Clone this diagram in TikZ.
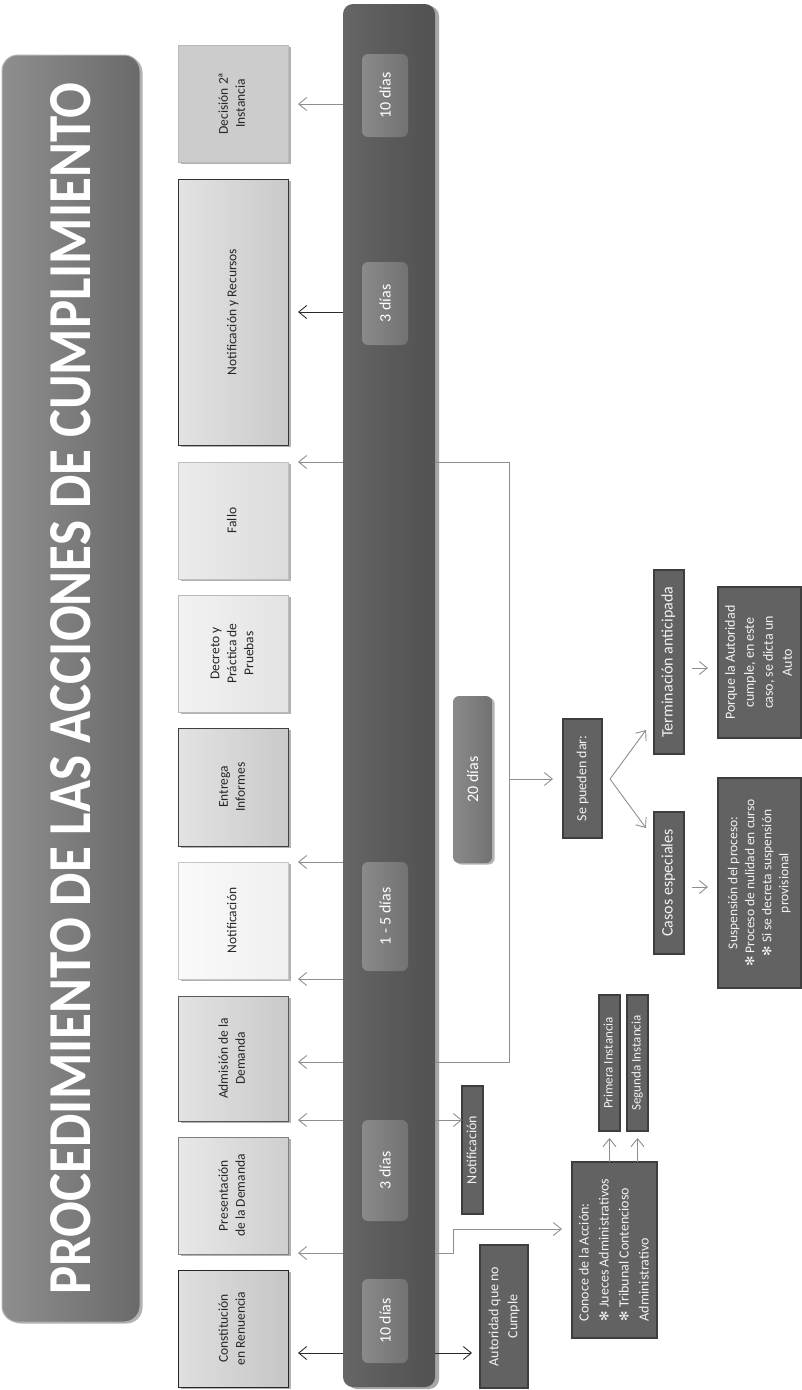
\documentclass[tikz,border=0pt]{standalone}
\usepackage{fontspec}
\usepackage{graphicx}
\setmainfont{Carlito}
\newfontfamily\djv{DejaVu Sans}
\usetikzlibrary{arrows.meta,shadows}
\definecolor{bargray}{HTML}{5A5A5A}
\definecolor{barlight}{HTML}{666666}
\definecolor{bardark}{HTML}{525252}
\definecolor{daylight}{HTML}{8A8A8A}
\definecolor{daydark}{HTML}{727272}
\definecolor{boxdark}{HTML}{626262}
\definecolor{boxedge}{HTML}{3E3E3E}
\definecolor{boxtext}{HTML}{F2F2F2}
\definecolor{arrgray}{HTML}{8E8E8E}
\definecolor{arrblack}{HTML}{2A2A2A}
\definecolor{titlel}{HTML}{8E8E8E}
\definecolor{titler}{HTML}{6A6A6A}
\newcommand{\rt}[1]{\rotatebox{90}{\begin{tabular}{@{}c@{}}#1\end{tabular}}}
\newcommand{\rtl}[1]{\rotatebox{90}{\begin{tabular}{@{}l@{}}#1\end{tabular}}}
\newcommand{\myast}{{\djv\fontsize{12.5}{12.5}\selectfont ✻}}
\begin{document}
\begin{tikzpicture}[x=1pt,y=-1pt,
  every node/.style={inner sep=0pt, outer sep=0pt},
  shad/.style={drop shadow={shadow xshift=2.5pt,shadow yshift=-1.5pt,opacity=0.3,fill=black}},
  stepbox/.style={rectangle, minimum width=110pt, line width=0.9pt, text=black!85,
    font=\fontsize{13.5}{17}\selectfont, shad},
  daybox/.style={rectangle, rounded corners=6pt, minimum width=46pt, left color=daylight,
    right color=daydark, text=white, font=\fontsize{16}{18}\selectfont},
  darkbox/.style={rectangle, fill=boxdark, draw=boxedge, line width=1.6pt, text=boxtext,
    font=\fontsize{14}{19}\selectfont},
  garr/.style={draw=arrgray, line width=0.9pt, -{Straight Barb[length=8pt,width=13pt]}},
  barr/.style={draw=arrblack, line width=0.9pt, -{Straight Barb[length=8pt,width=13pt]}},
  gline/.style={draw=arrgray, line width=0.9pt}]
\useasboundingbox (0,0) rectangle (801,1390);

% title
\node[rectangle, rounded corners=16pt, minimum width=138pt, minimum height=1267pt,
  left color=titlel, right color=titler, draw=gray!60, line width=1pt, shad, text=white]
  (title) at (71,688.5)
  {\rotatebox{90}{\resizebox{1212pt}{40pt}{\bfseries PROCEDIMIENTO DE LAS ACCIONES DE CUMPLIMIENTO}}};

% step boxes
\node[stepbox, minimum height=117pt, fill=gray!40, draw=gray!55] (dec) at (233,103.5)
  {\rt{Decisión 2ª\\Instancia}};
\node[stepbox, minimum height=266pt, left color=gray!22, right color=gray!42, draw=black!80] (nyr) at (233,312)
  {\rt{Notificación y Recursos}};
\node[stepbox, minimum height=117pt, left color=gray!15, right color=gray!28, draw=gray!50] (fallo) at (233,520.5)
  {\rt{Fallo}};
\node[stepbox, minimum height=117pt, left color=gray!10, right color=gray!22, draw=gray!55] (decreto) at (233,653.5)
  {\rt{Decreto y\\Práctica de\\Pruebas}};
\node[stepbox, minimum height=118pt, left color=gray!22, right color=gray!42, draw=black!75] (entrega) at (233,787)
  {\rt{Entrega\\Informes}};
\node[stepbox, minimum height=117pt, left color=gray!4, right color=gray!12, draw=gray!45] (notif) at (233,920.5)
  {\rt{Notificación}};
\node[stepbox, minimum height=125pt, left color=gray!22, right color=gray!42, draw=black!65] (admision) at (233,1058.5)
  {\rt{Admisión de la\\Demanda}};
\node[stepbox, minimum height=117pt, left color=gray!18, right color=gray!38, draw=black!50] (present) at (233,1195.5)
  {\rt{Presentación\\de la Demanda}};
\node[stepbox, minimum height=117pt, left color=gray!25, right color=gray!45, draw=black!85] (const) at (233,1328.5)
  {\rt{Constitución\\en Renuencia}};

% connectors under the bar
\coordinate (jt) at (509,462);
\coordinate (jm) at (509,779);
\coordinate (jb) at (509,1062);
\coordinate (k1) at (453,1253);
\coordinate (k2) at (453,1229);
\draw[gline] (389,462) -- (jt) -- (jb) -- (389,1062);

% timeline bar
\node[rectangle, rounded corners=10pt, minimum width=92pt, minimum height=1383pt,
  left color=barlight, right color=bardark, middle color=bargray,
  drop shadow={shadow xshift=4pt,shadow yshift=-2pt,opacity=0.35,fill=black}] (bar) at (389,695.5) {};

\node[daybox, minimum height=83pt] (d10a) at (385,95.5) {\rotatebox{90}{10 días}};
\node[daybox, minimum height=83pt] (d3a) at (385,303.5) {\rotatebox{90}{3 días}};
\node[daybox, minimum height=109pt] (d15) at (385,916.5) {\rotatebox{90}{1 - 5 días}};
\node[daybox, minimum height=101pt] (d3b) at (385,1170.5) {\rotatebox{90}{3 días}};
\node[daybox, minimum height=84pt] (d10b) at (385,1321) {\rotatebox{90}{10 días}};
\node[daybox, minimum width=39pt, minimum height=167pt, shad] (d20) at (472.5,779.5) {\rotatebox{90}{20 días}};

% right side boxes
\node[darkbox, minimum width=21pt, minimum height=128pt] (notif2) at (472.5,1150)
  {\rt{Notificación}};
\node[darkbox, minimum width=48pt, minimum height=143pt] (autoridad) at (504,1316.5)
  {\rt{Autoridad que no\\Cumple}};
\node[darkbox, minimum width=85pt, minimum height=176pt, font=\fontsize{14}{20}\selectfont] (conoce) at (614.5,1250)
  {\rtl{Conoce de la Acción:\\\myast\ Jueces Administrativos\\\myast\ Tribunal Contencioso\\Administrativo}};
\node[darkbox, minimum width=21pt, minimum height=136pt, font=\fontsize{13}{16}\selectfont] (primera) at (609.5,1063)
  {\rt{Primera Instancia}};
\node[darkbox, minimum width=21pt, minimum height=136pt, font=\fontsize{13}{16}\selectfont] (segunda) at (637.5,1063)
  {\rt{Segunda Instancia}};
\node[darkbox, minimum width=39pt, minimum height=119pt] (sepueden) at (582.5,778.5)
  {\rt{Se pueden dar:}};
\node[darkbox, minimum width=30pt, minimum height=184pt, font=\fontsize{16}{18}\selectfont] (term) at (669,662)
  {\rt{Terminación anticipada}};
\node[darkbox, minimum width=30pt, minimum height=142pt, font=\fontsize{16}{18}\selectfont] (casos) at (669,883)
  {\rt{Casos especiales}};
\node[darkbox, minimum width=83pt, minimum height=151pt] (porque) at (759.5,662.5)
  {\rt{Porque la Autoridad\\cumple, en este\\caso, se dicta un\\Auto}};
\node[darkbox, minimum width=83pt, minimum height=210pt, font=\fontsize{13.5}{17}\selectfont] (susp) at (759.5,883)
  {\rt{Suspensión del proceso:\\\myast\ Proceso de nulidad en curso\\\myast\ Si se decreta suspensión\\provisional}};

% left arrows from bar
\draw[garr, shorten >=10pt] (bar.west |- 0,104) -- (dec.east |- 0,104);
\draw[barr, shorten >=10pt] (bar.west |- 0,312) -- (nyr.east |- 0,312);
\draw[garr, shorten >=10pt] (bar.west |- 0,462) -- (fallo.east |- 0,462);
\draw[garr, shorten >=10pt] (bar.west |- 0,862) -- (notif.east |- 0,862);
\draw[garr, shorten >=10pt] (bar.west |- 0,979) -- (notif.east |- 0,979);
\draw[garr, shorten >=10pt] (bar.west |- 0,1062) -- (admision.east |- 0,1062);
\draw[garr, shorten >=10pt] (bar.west |- 0,1120) -- (admision.east |- 0,1120);
\draw[garr, shorten >=10pt] (bar.west |- 0,1253) -- (present.east |- 0,1253);
\draw[barr, shorten >=10pt] (bar.west |- 0,1353) -- (const.east |- 0,1353);

% right arrows from bar
\draw[gline] (bar.east |- jt) -- (jt);
\draw[gline] (bar.east |- jb) -- (jb);
\draw[garr, shorten >=10pt] (jm) -- (sepueden.west |- jm);
\draw[garr] (bar.east |- 0,1120) -- (notif2.west |- 0,1120);
\draw[garr, shorten >=10pt] (bar.east |- k1) -- (k1) -- (k2) -- (conoce.west |- k2);
\draw[barr, shorten >=8pt] (bar.east |- 0,1353) -- (autoridad.west |- 0,1353);
\draw[garr, shorten >=7pt] (conoce.north -| primera) -- (primera.south);
\draw[garr, shorten >=7pt] (conoce.north -| segunda) -- (segunda.south);

% branching
\coordinate (vx) at (610,779);
\coordinate (vt) at (646,730);
\coordinate (vc) at (646,828);
\draw[garr] (vx) -- (vt);
\draw[garr] (vx) -- (vc);
\draw[garr, shorten <=8pt, shorten >=10pt] (term.east |- 0,668) -- (porque.west |- 0,668);
\draw[garr, shorten <=8pt, shorten >=10pt] (casos.east |- 0,887) -- (susp.west |- 0,887);
\end{tikzpicture}
\end{document}
